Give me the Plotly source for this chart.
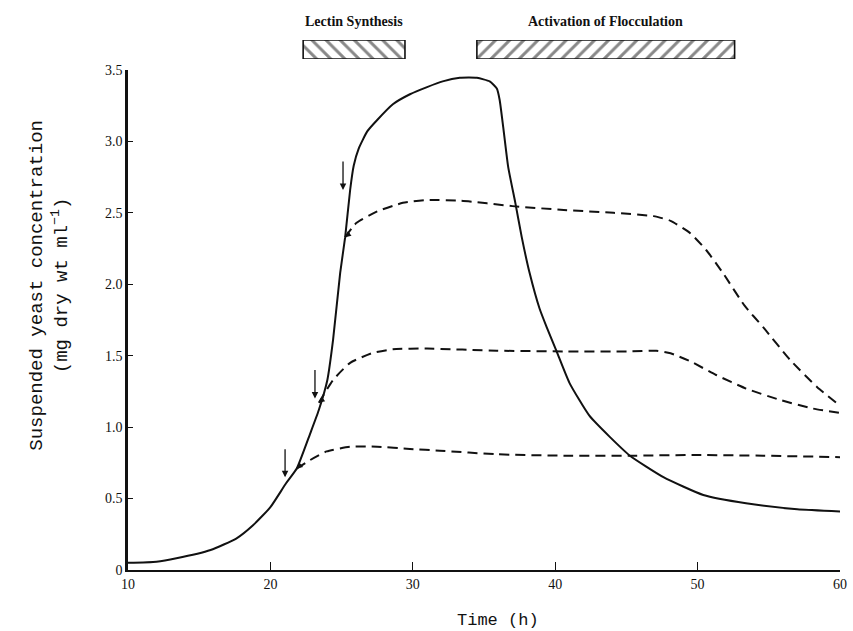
import plotly.graph_objects as go

# ---- data ----
solid_t = [10.0, 12.0, 13.4, 15.8, 17.6, 18.8, 20.0, 21.1, 21.85, 22.8, 23.4, 24.0, 24.4, 24.9,
           25.25, 25.6, 25.85, 26.2, 26.8, 27.5, 28.6, 29.8, 31.0, 32.1, 33.3, 34.5, 35.4, 35.9,
           36.1, 36.35, 36.7, 37.2, 37.65, 38.2, 38.9, 39.4, 40.1, 41.0, 42.4, 43.85, 45.25,
           47.6, 50.4, 53.4, 57.0, 60.0]
solid_c = [0.05, 0.058, 0.082, 0.14, 0.22, 0.315, 0.44, 0.607, 0.71, 0.957, 1.12, 1.33, 1.61, 2.08,
           2.33, 2.66, 2.83, 2.95, 3.07, 3.15, 3.26, 3.33, 3.38, 3.42, 3.445, 3.445, 3.42, 3.37,
           3.29, 3.10, 2.82, 2.57, 2.33, 2.08, 1.83, 1.70, 1.53, 1.31, 1.08, 0.93, 0.80,
           0.65, 0.525, 0.467, 0.425, 0.41]

dashA_t = [25.25, 26.05, 27.5, 29.3, 31.0, 33.4, 37.0, 40.6, 44.1, 46.9, 48.1, 49.5, 50.6, 51.8,
           53.3, 54.6, 56.5, 58.4, 60.0]
dashA_c = [2.33, 2.43, 2.51, 2.57, 2.59, 2.585, 2.547, 2.52, 2.50, 2.477, 2.444, 2.356, 2.24, 2.076,
           1.85, 1.70, 1.47, 1.28, 1.15]

dashB_t = [23.4, 24.4, 25.6, 27.2, 28.6, 31.0, 35.9, 40.6, 45.25, 47.1, 48.1, 49.5, 51.3, 53.4,
           55.8, 58.1, 60.0]
dashB_c = [1.17, 1.33, 1.45, 1.52, 1.545, 1.55, 1.535, 1.53, 1.53, 1.535, 1.517, 1.46, 1.365, 1.27,
           1.19, 1.13, 1.10]

dashC_t = [21.85, 22.8, 23.95, 25.6, 27.5, 29.8, 31.9, 35.9, 40.6, 45.25, 49.9, 54.6, 60.0]
dashC_c = [0.71, 0.77, 0.83, 0.863, 0.863, 0.847, 0.835, 0.81, 0.80, 0.80, 0.805, 0.80, 0.79]

# addition-time arrows
arrow_t = [21.03, 23.13, 25.1]
arrow_tip = [0.65, 1.20, 2.66]
arrow_tail = [0.855, 1.41, 2.87]

# phase bars
phase_labels = ["Lectin Synthesis", "Activation of Flocculation"]
phase_start = [22.3, 34.5]
phase_end = [29.45, 52.6]
phase_hatch = ["\\", "/"]

x_ticks = [10, 20, 30, 40, 50, 60]
y_ticks = [0, 0.5, 1.0, 1.5, 2.0, 2.5, 3.0, 3.5]
y_ticktext = ["0", "0.5", "1.0", "1.5", "2.0", "2.5", "3.0", "3.5"]

INK = "#111111"
SERIF = "Liberation Serif, Times New Roman, serif"
MONO = "Liberation Mono, DejaVu Sans Mono, monospace"

fig = go.Figure()

fig.add_trace(go.Scatter(x=solid_t, y=solid_c, mode="lines",
                         line=dict(color=INK, width=2, shape="spline", smoothing=0.5),
                         showlegend=False, hoverinfo="skip"))
for tt, cc in [(dashA_t, dashA_c), (dashB_t, dashB_c), (dashC_t, dashC_c)]:
    fig.add_trace(go.Scatter(x=tt, y=cc, mode="lines",
                             line=dict(color=INK, width=2, dash="10px,6px", shape="spline", smoothing=0.5),
                             showlegend=False, hoverinfo="skip"))

# hatched phase bars on a small axis above the plot
fig.add_trace(go.Bar(
    y=[0, 0], x=[e - s for s, e in zip(phase_start, phase_end)], base=phase_start,
    orientation="h", width=[1, 1], yaxis="y2",
    marker=dict(color="white", line=dict(color=INK, width=1.6),
                pattern=dict(shape=phase_hatch, fgcolor=INK, bgcolor="white", size=10, solidity=0.3)),
    showlegend=False, hoverinfo="skip"))

annotations = []
for t, tip, tail in zip(arrow_t, arrow_tip, arrow_tail):
    annotations.append(dict(x=t, y=tip, ax=t, ay=tail, xref="x", yref="y", axref="x", ayref="y",
                            showarrow=True, arrowhead=2, arrowsize=1, arrowwidth=1.3, arrowcolor=INK, text=""))
# small arrowheads where dashed curves leave the solid curve
for tt, cc in [(dashA_t, dashA_c), (dashB_t, dashB_c), (dashC_t, dashC_c)]:
    annotations.append(dict(x=tt[0], y=cc[0], ax=6, ay=-5, xref="x", yref="y",
                            showarrow=True, arrowhead=2, arrowsize=0.9, arrowwidth=1.3, arrowcolor=INK, text=""))

for lab, s, e in zip(phase_labels, phase_start, phase_end):
    annotations.append(dict(x=(s + e) / 2, y=0.9786, xref="x", yref="paper", text="<b>" + lab + "</b>",
                            showarrow=False, font=dict(family=SERIF, size=14, color=INK),
                            xanchor="center", yanchor="middle"))

annotations.append(dict(x=36.0, y=0, xref="x", yref="paper", yshift=-50, text="Time (h)", showarrow=False,
                        font=dict(family=MONO, size=17, color=INK), xanchor="center", yanchor="middle"))
annotations.append(dict(x=0, y=1.99, xref="paper", yref="y", xshift=-78,
                        text="Suspended yeast concentration<br>(mg dry wt ml<sup>−1</sup>)",
                        showarrow=False, textangle=-90, font=dict(family=MONO, size=19, color=INK),
                        xanchor="center", yanchor="middle"))

fig.update_layout(
    width=853, height=631,
    margin=dict(l=128, r=13, t=10, b=61, autoexpand=False),
    paper_bgcolor="white", plot_bgcolor="white",
    barmode="overlay",
    annotations=annotations,
    xaxis=dict(range=[10, 60], tickvals=x_ticks, ticks="inside", ticklen=8, tickwidth=1.3, tickcolor=INK,
               showline=True, linecolor=INK, linewidth=2, showgrid=False, zeroline=False, automargin=False,
               tickfont=dict(family=SERIF, size=14, color=INK), anchor="y"),
    yaxis=dict(range=[0, 3.5], domain=[0, 0.8929], tickvals=y_ticks, ticktext=y_ticktext,
               ticks="inside", ticklen=5, tickwidth=1.3, tickcolor=INK, automargin=False,
               showline=True, linecolor=INK, linewidth=2.5, showgrid=False, zeroline=False,
               tickfont=dict(family=SERIF, size=14, color=INK)),
    yaxis2=dict(domain=[0.9125, 0.9464], range=[-0.5, 0.5], visible=False, anchor="x", fixedrange=True),
)

# remove the default page margin and scrollbars so the figure fills the window exactly
fig.write_html("out.html", config={"displayModeBar": False}, post_script=(
    "document.body.style.margin='0';"
    "document.body.style.overflow='hidden';"
    "document.documentElement.style.overflow='hidden';"))
